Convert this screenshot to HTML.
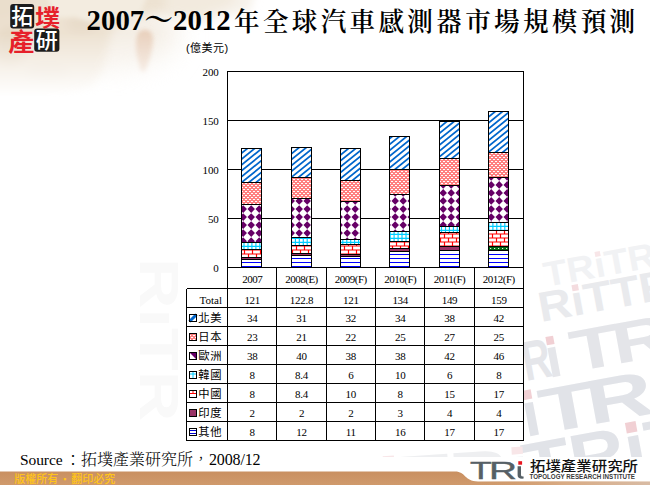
<!DOCTYPE html>
<html lang="zh-Hant"><head><meta charset="utf-8"><title>2007～2012年全球汽車感測器市場規模預測</title>
<style>
html,body{margin:0;padding:0;background:#fff;}
body{width:650px;height:485px;position:relative;overflow:hidden;font-family:"Liberation Sans","Noto Sans CJK TC",sans-serif;}
#bg{position:absolute;left:0;top:0;width:650px;height:485px;}
#chart{position:absolute;left:0;top:0;}
.abs{position:absolute;white-space:nowrap;line-height:1;}
#title{left:86.6px;top:3.6px;font-family:"Liberation Serif","Noto Serif CJK SC",serif;font-weight:bold;color:#000;font-size:28.8px;height:32px;line-height:32px;}
#title .cj{font-weight:600;font-size:25.6px;letter-spacing:3.3px;position:relative;top:1.6px;margin-left:3.4px;}
#unit{left:186px;top:43px;font-size:11px;color:#000;letter-spacing:0.45px;}
#src{left:20px;top:452px;font-size:16px;color:#000;font-family:"Liberation Serif","Noto Serif CJK SC",serif;font-weight:300;}
#src .mono{font-family:"Liberation Serif",serif;font-size:15.5px;letter-spacing:-0.1px;display:inline-block;width:45px;font-weight:400;}
#src .num{font-family:"Liberation Serif",serif;font-size:16px;letter-spacing:-0.15px;font-weight:400;}
#copy{left:14.2px;top:474px;font-size:11px;color:#ffc41a;font-weight:500;}
#copy i{font-style:normal;display:inline-block;width:13px;text-align:center;font-size:9px;vertical-align:1px;}
</style></head><body>
<svg id="bg" width="650" height="485" viewBox="0 0 650 485">
<defs>
<filter id="b8" x="-20%" y="-20%" width="140%" height="140%"><feGaussianBlur stdDeviation="5"/></filter>
<filter id="b12" x="-30%" y="-30%" width="160%" height="160%"><feGaussianBlur stdDeviation="14"/></filter>
<filter id="b3" x="-30%" y="-30%" width="160%" height="160%"><feGaussianBlur stdDeviation="2.2"/></filter>
<filter id="b1" x="-10%" y="-10%" width="120%" height="120%"><feGaussianBlur stdDeviation="0.8"/></filter>
<linearGradient id="vf" x1="0" y1="0" x2="0" y2="110" gradientUnits="userSpaceOnUse"><stop offset="0" stop-color="#fff"/><stop offset="0.3" stop-color="#fff"/><stop offset="0.88" stop-color="#000"/></linearGradient>
<mask id="vfade" maskUnits="userSpaceOnUse" x="0" y="0" width="330" height="130"><rect x="0" y="0" width="330" height="130" fill="url(#vf)"/></mask>
<linearGradient id="fadeR" x1="0" y1="0" x2="1" y2="0"><stop offset="0" stop-color="#fff" stop-opacity="0"/><stop offset="1" stop-color="#fff" stop-opacity="1"/></linearGradient>
<linearGradient id="wmfade" x1="0" y1="0" x2="0" y2="1"><stop offset="0" stop-color="#fff" stop-opacity="1"/><stop offset="0.35" stop-color="#fff" stop-opacity="0.55"/><stop offset="1" stop-color="#fff" stop-opacity="0"/></linearGradient>
<linearGradient id="barg2" x1="0" y1="0" x2="1" y2="0"><stop offset="0" stop-color="#d39d6e" stop-opacity="0"/><stop offset="0.5" stop-color="#d9ab84"/><stop offset="1" stop-color="#d8bba4"/></linearGradient>
<linearGradient id="barg" x1="0" y1="471" x2="0" y2="485" gradientUnits="userSpaceOnUse"><stop offset="0" stop-color="#c98f60"/><stop offset="1" stop-color="#d09a6c"/></linearGradient>
</defs>
<!-- map wash -->
<g mask="url(#vfade)">
<g filter="url(#b12)">
<ellipse cx="105" cy="36" rx="72" ry="44" fill="#f4eee5"/>
</g>
<g filter="url(#b8)">
<path d="M-30,-30 L240,-30 L232,4 L195,17 L158,13 L130,17 L112,30 L107,50 L103,70 L92,88 L62,100 L30,104 L-30,106Z" fill="#ede2d2"/>
<path d="M-30,-30 L40,-30 L30,8 L10,20 L-30,25Z" fill="#e6d8c4" opacity="0.35"/>
<ellipse cx="10" cy="45" rx="16" ry="20" fill="#e2d4be" opacity="0.55"/>
<ellipse cx="82" cy="24" rx="16" ry="8" fill="#e4d6c2" opacity="0.5"/>
<ellipse cx="48" cy="74" rx="22" ry="9" fill="#e6d9c6" opacity="0.5"/>
<ellipse cx="118" cy="6" rx="16" ry="7" fill="#e4d6c2" opacity="0.45"/>
<path d="M165,-30 L260,-30 L250,10 L200,24 L165,18Z" fill="#f3ece2" opacity="0.75"/>
</g>
<path d="M45,-10 L150,-10 L140,14 L110,18 L90,22 L75,17 L55,18Z" fill="#f3ece0" filter="url(#b3)"/>
<g filter="url(#b3)">
<path d="M139,32 C146,27 154,31 153,41 C152,52 149,63 145,71 C143,74 140,71 139,64 C136,54 134,39 139,32Z" fill="#e9d1be"/>
</g>
</g>
<!-- watermark -->
<g font-family="'Liberation Sans', sans-serif" font-weight="bold">
<g transform="translate(546,287) rotate(-10.5) scale(1.1,1)">
<text font-size="35" fill="#f1f2f4">TRıTR</text>
<rect x="49.1" y="-25.6" width="4.9" height="5.2" fill="#f8e6e8"/>
</g>
<g transform="translate(541,322) rotate(-10.5) scale(1.1,1)">
<text font-size="42" fill="#e9eaed">RıTTR</text>
<rect x="33.3" y="-30.7" width="5.9" height="6.3" fill="#f4dcdf"/>
</g>
<g transform="translate(526,381) rotate(-10.5) scale(0.7,1)">
<text font-size="56" fill="#e5e6ea">R</text>
</g>
<g transform="translate(549,378) rotate(-10.5) scale(1.0,1)">
<text font-size="56" fill="#e5e6ea">ı</text>
<rect x="3.9" y="-40.9" width="7.8" height="8.4" fill="#f1d0d4"/>
</g>
<g transform="translate(574,372) rotate(-10.5) scale(1.4,1)">
<text font-size="58" fill="#e4e5e9" letter-spacing="-5">TR</text>
</g>
<g transform="translate(526,437) rotate(-10.5) scale(1.0,1)">
<text font-size="63" fill="#e1e3e8">ı</text>
<rect x="4.4" y="-46.0" width="8.8" height="9.4" fill="#f1d0d4"/>
</g>
<g transform="translate(543.5,433.8) rotate(-10.5) scale(1.47,1)">
<text font-size="63" fill="#e1e3e8" letter-spacing="-6">TR</text>
</g>
<g transform="translate(528,493) rotate(-10.5) scale(1.1,1)">
<text font-size="70" fill="#e1e3e8">TRıT</text>
<rect x="98.2" y="-51.1" width="9.8" height="10.5" fill="#f1d0d4"/>
</g>
<g transform="translate(322,497) rotate(-4) scale(1.6,1)">
<text font-size="50" fill="#eeeff1">RıTRı</text>
<rect x="39.6" y="-36.5" width="7.0" height="7.5" fill="#f8e6e8"/>
<rect x="120.2" y="-36.5" width="7.0" height="7.5" fill="#f8e6e8"/>
</g>
<text transform="translate(140,258) rotate(90) scale(1.25,1)" font-size="56" fill="#f9f9f9">RıTR</text>
</g>
<!-- bottom bar -->
<rect x="0" y="457" width="650" height="28" fill="#fff"/>
<path d="M0,471.4 L455,471.4 C466,471.4 464,481.2 478,481.4 L650,481.8 L650,485 L0,485Z" fill="url(#barg)"/>
<path d="M478,481.4 L650,481.8 L650,485 L478,485Z" fill="url(#barg2)"/>
<!-- TRi logo -->
<g font-family="'Liberation Sans', sans-serif" fill="#566066">
<text transform="translate(470.0,478.6) scale(1.53,1)" font-size="23.2" stroke="#566066" stroke-width="0.4">T</text>
<text transform="translate(488.9,478.6) scale(1.67,1)" font-size="23.2" stroke="#566066" stroke-width="0.4">R</text>
<path d="M517.6,466.3 h3.4 v9 q0,1.4 2.6,1.3 v2 q-6,0.6 -6,-3.3z"/>
<rect x="518.3" y="461.2" width="3.8" height="3.5" fill="#e8141e"/>
</g>
<text transform="translate(530,471.4) scale(1,0.9)" font-family="'Liberation Sans','Noto Sans CJK TC',sans-serif" font-weight="500" font-size="14.6" fill="#111" textLength="108" lengthAdjust="spacingAndGlyphs">拓墣產業研究所</text>
<text x="529.5" y="479.2" font-family="'Liberation Sans', sans-serif" font-size="6.7" font-weight="bold" fill="#3a3a3a" textLength="105.5" lengthAdjust="spacingAndGlyphs">TOPOLOGY RESEARCH INSTITUTE</text>
<!-- top-left logo -->
<rect x="10.2" y="4" width="24" height="24.6" rx="3" fill="#1c1c1c"/>
<rect x="34.2" y="28.6" width="25.2" height="23.1" rx="3" fill="#1c1c1c"/>
<g font-family="'Liberation Sans','Noto Sans CJK TC',sans-serif" font-weight="700">
<text x="11.3" y="24.4" fill="#fff" font-size="22" font-weight="500">拓</text>
<text transform="translate(35,26.3) scale(1,0.92)" fill="#e6202a" font-size="25">墣</text>
<text transform="translate(8.3,50.8) scale(1,0.94)" fill="#e6202a" font-size="26">產</text>
<text x="35.8" y="48.3" fill="#fff" font-size="22" font-weight="500">研</text>
</g>
</svg>
<svg id="chart" width="650" height="485" viewBox="0 0 650 485">
<defs>
<pattern id="pJapan" width="4" height="4" x="3" y="1" patternUnits="userSpaceOnUse"><rect width="4" height="4" fill="#ff8080"/><rect x="0" y="0" width="2" height="1" fill="#fff"/><rect x="2" y="2" width="2" height="1" fill="#fff"/></pattern>
</defs>
<rect x="227.5" y="71.5" width="296.0" height="196.0" fill="#fff" stroke="none"/>
<rect x="186.5" y="288.5" width="41.0" height="152.0" fill="#fff"/>
<rect x="227.5" y="267.5" width="296.0" height="173.0" fill="#fff"/>
<g stroke="#000" stroke-width="1" fill="none" shape-rendering="crispEdges">
<line x1="227.5" y1="218.5" x2="523.5" y2="218.5"/>
<line x1="227.5" y1="169.5" x2="523.5" y2="169.5"/>
<line x1="227.5" y1="120.5" x2="523.5" y2="120.5"/>
<rect x="227.5" y="71.5" width="296.0" height="196.0"/>
</g>
<clipPath id="c0"><rect x="241.5" y="259.50" width="20" height="8.00"/></clipPath>
<g clip-path="url(#c0)">
<rect x="241.5" y="259.50" width="20" height="8.00" fill="#fff"/>
<path d="M241.5 266.5H261.5M241.5 262.5H261.5" stroke="#0000ff" stroke-width="1" fill="none"/>
</g>
<rect x="241.5" y="259.50" width="20" height="8.00" fill="none" stroke="#000" stroke-width="1" shape-rendering="crispEdges"/>
<clipPath id="c1"><rect x="241.5" y="257.50" width="20" height="2.00"/></clipPath>
<g clip-path="url(#c1)">
<rect x="241.5" y="257.50" width="20" height="2.00" fill="#993366"/>
</g>
<rect x="241.5" y="257.50" width="20" height="2.00" fill="none" stroke="#000" stroke-width="1" shape-rendering="crispEdges"/>
<clipPath id="c2"><rect x="241.5" y="249.50" width="20" height="8.00"/></clipPath>
<g clip-path="url(#c2)">
<rect x="241.5" y="249.50" width="20" height="8.00" fill="#fff"/>
<path d="M248.5 246.0v4.0M256.5 246.0v4.0M241.5 250.0H261.5M244.5 250.0v4.0M252.5 250.0v4.0M260.5 250.0v4.0M241.5 254.0H261.5M248.5 254.0v4.0M256.5 254.0v4.0M241.5 258.0H261.5" stroke="#ff0000" stroke-width="1.2" fill="none"/>
</g>
<rect x="241.5" y="249.50" width="20" height="8.00" fill="none" stroke="#000" stroke-width="1" shape-rendering="crispEdges"/>
<clipPath id="c3"><rect x="241.5" y="242.50" width="20" height="7.00"/></clipPath>
<g clip-path="url(#c3)">
<rect x="241.5" y="242.50" width="20" height="7.00" fill="#fff"/>
<path d="M244.0 242.5V249.5M248.0 242.5V249.5M251.9 242.5V249.5M255.9 242.5V249.5M259.8 242.5V249.5M241.5 246.3H261.5" stroke="#00ccff" stroke-width="1.15" fill="none"/>
</g>
<rect x="241.5" y="242.50" width="20" height="7.00" fill="none" stroke="#000" stroke-width="1" shape-rendering="crispEdges"/>
<clipPath id="c4"><rect x="241.5" y="204.50" width="20" height="38.00"/></clipPath>
<g clip-path="url(#c4)">
<rect x="241.5" y="204.50" width="20" height="38.00" fill="#fff"/>
<path d="M243.2 197.1l3.75 3.85l-3.75 3.85l-3.75 -3.85zM251.2 197.1l3.75 3.85l-3.75 3.85l-3.75 -3.85zM259.2 197.1l3.75 3.85l-3.75 3.85l-3.75 -3.85zM243.2 205.2l3.75 3.85l-3.75 3.85l-3.75 -3.85zM251.2 205.2l3.75 3.85l-3.75 3.85l-3.75 -3.85zM259.2 205.2l3.75 3.85l-3.75 3.85l-3.75 -3.85zM243.2 213.2l3.75 3.85l-3.75 3.85l-3.75 -3.85zM251.2 213.2l3.75 3.85l-3.75 3.85l-3.75 -3.85zM259.2 213.2l3.75 3.85l-3.75 3.85l-3.75 -3.85zM243.2 221.2l3.75 3.85l-3.75 3.85l-3.75 -3.85zM251.2 221.2l3.75 3.85l-3.75 3.85l-3.75 -3.85zM259.2 221.2l3.75 3.85l-3.75 3.85l-3.75 -3.85zM243.2 229.2l3.75 3.85l-3.75 3.85l-3.75 -3.85zM251.2 229.2l3.75 3.85l-3.75 3.85l-3.75 -3.85zM259.2 229.2l3.75 3.85l-3.75 3.85l-3.75 -3.85zM243.2 237.3l3.75 3.85l-3.75 3.85l-3.75 -3.85zM251.2 237.3l3.75 3.85l-3.75 3.85l-3.75 -3.85zM259.2 237.3l3.75 3.85l-3.75 3.85l-3.75 -3.85z" fill="#660066"/>
</g>
<rect x="241.5" y="204.50" width="20" height="38.00" fill="none" stroke="#000" stroke-width="1" shape-rendering="crispEdges"/>
<clipPath id="c5"><rect x="241.5" y="182.50" width="20" height="22.00"/></clipPath>
<g clip-path="url(#c5)">
<rect x="241.5" y="182.50" width="20" height="22.00" fill="url(#pJapan)"/>
</g>
<rect x="241.5" y="182.50" width="20" height="22.00" fill="none" stroke="#000" stroke-width="1" shape-rendering="crispEdges"/>
<clipPath id="c6"><rect x="241.5" y="148.50" width="20" height="34.00"/></clipPath>
<g clip-path="url(#c6)">
<rect x="241.5" y="148.50" width="20" height="34.00" fill="#fff"/>
<path d="M239.5 143.20L263.5 123.76M239.5 149.05L263.5 129.61M239.5 154.90L263.5 135.46M239.5 160.75L263.5 141.31M239.5 166.60L263.5 147.16M239.5 172.45L263.5 153.01M239.5 178.30L263.5 158.86M239.5 184.15L263.5 164.71M239.5 190.00L263.5 170.56M239.5 195.85L263.5 176.41M239.5 201.70L263.5 182.26M239.5 207.55L263.5 188.11" stroke="#0066cc" stroke-width="1.75" fill="none"/>
</g>
<rect x="241.5" y="148.50" width="20" height="34.00" fill="none" stroke="#000" stroke-width="1" shape-rendering="crispEdges"/>
<clipPath id="c7"><rect x="291.5" y="255.50" width="20" height="12.00"/></clipPath>
<g clip-path="url(#c7)">
<rect x="291.5" y="255.50" width="20" height="12.00" fill="#fff"/>
<path d="M291.5 266.5H311.5M291.5 262.5H311.5M291.5 258.5H311.5" stroke="#0000ff" stroke-width="1" fill="none"/>
</g>
<rect x="291.5" y="255.50" width="20" height="12.00" fill="none" stroke="#000" stroke-width="1" shape-rendering="crispEdges"/>
<clipPath id="c8"><rect x="291.5" y="253.50" width="20" height="2.00"/></clipPath>
<g clip-path="url(#c8)">
<rect x="291.5" y="253.50" width="20" height="2.00" fill="#993366"/>
</g>
<rect x="291.5" y="253.50" width="20" height="2.00" fill="none" stroke="#000" stroke-width="1" shape-rendering="crispEdges"/>
<clipPath id="c9"><rect x="291.5" y="245.50" width="20" height="8.00"/></clipPath>
<g clip-path="url(#c9)">
<rect x="291.5" y="245.50" width="20" height="8.00" fill="#fff"/>
<path d="M292.5 242.0v4.0M300.5 242.0v4.0M308.5 242.0v4.0M291.5 246.0H311.5M296.5 246.0v4.0M304.5 246.0v4.0M291.5 250.0H311.5M292.5 250.0v4.0M300.5 250.0v4.0M308.5 250.0v4.0M291.5 254.0H311.5" stroke="#ff0000" stroke-width="1.2" fill="none"/>
</g>
<rect x="291.5" y="245.50" width="20" height="8.00" fill="none" stroke="#000" stroke-width="1" shape-rendering="crispEdges"/>
<clipPath id="c10"><rect x="291.5" y="237.50" width="20" height="8.00"/></clipPath>
<g clip-path="url(#c10)">
<rect x="291.5" y="237.50" width="20" height="8.00" fill="#fff"/>
<path d="M295.4 237.5V245.5M299.3 237.5V245.5M303.3 237.5V245.5M307.2 237.5V245.5M311.2 237.5V245.5M291.5 238.3H311.5M291.5 242.3H311.5" stroke="#00ccff" stroke-width="1.15" fill="none"/>
</g>
<rect x="291.5" y="237.50" width="20" height="8.00" fill="none" stroke="#000" stroke-width="1" shape-rendering="crispEdges"/>
<clipPath id="c11"><rect x="291.5" y="198.50" width="20" height="39.00"/></clipPath>
<g clip-path="url(#c11)">
<rect x="291.5" y="198.50" width="20" height="39.00" fill="#fff"/>
<path d="M291.2 197.1l3.75 3.85l-3.75 3.85l-3.75 -3.85zM299.2 197.1l3.75 3.85l-3.75 3.85l-3.75 -3.85zM307.2 197.1l3.75 3.85l-3.75 3.85l-3.75 -3.85zM315.2 197.1l3.75 3.85l-3.75 3.85l-3.75 -3.85zM291.2 205.2l3.75 3.85l-3.75 3.85l-3.75 -3.85zM299.2 205.2l3.75 3.85l-3.75 3.85l-3.75 -3.85zM307.2 205.2l3.75 3.85l-3.75 3.85l-3.75 -3.85zM315.2 205.2l3.75 3.85l-3.75 3.85l-3.75 -3.85zM291.2 213.2l3.75 3.85l-3.75 3.85l-3.75 -3.85zM299.2 213.2l3.75 3.85l-3.75 3.85l-3.75 -3.85zM307.2 213.2l3.75 3.85l-3.75 3.85l-3.75 -3.85zM315.2 213.2l3.75 3.85l-3.75 3.85l-3.75 -3.85zM291.2 221.2l3.75 3.85l-3.75 3.85l-3.75 -3.85zM299.2 221.2l3.75 3.85l-3.75 3.85l-3.75 -3.85zM307.2 221.2l3.75 3.85l-3.75 3.85l-3.75 -3.85zM315.2 221.2l3.75 3.85l-3.75 3.85l-3.75 -3.85zM291.2 229.2l3.75 3.85l-3.75 3.85l-3.75 -3.85zM299.2 229.2l3.75 3.85l-3.75 3.85l-3.75 -3.85zM307.2 229.2l3.75 3.85l-3.75 3.85l-3.75 -3.85zM315.2 229.2l3.75 3.85l-3.75 3.85l-3.75 -3.85zM291.2 237.3l3.75 3.85l-3.75 3.85l-3.75 -3.85zM299.2 237.3l3.75 3.85l-3.75 3.85l-3.75 -3.85zM307.2 237.3l3.75 3.85l-3.75 3.85l-3.75 -3.85zM315.2 237.3l3.75 3.85l-3.75 3.85l-3.75 -3.85z" fill="#660066"/>
</g>
<rect x="291.5" y="198.50" width="20" height="39.00" fill="none" stroke="#000" stroke-width="1" shape-rendering="crispEdges"/>
<clipPath id="c12"><rect x="291.5" y="177.50" width="20" height="21.00"/></clipPath>
<g clip-path="url(#c12)">
<rect x="291.5" y="177.50" width="20" height="21.00" fill="url(#pJapan)"/>
</g>
<rect x="291.5" y="177.50" width="20" height="21.00" fill="none" stroke="#000" stroke-width="1" shape-rendering="crispEdges"/>
<clipPath id="c13"><rect x="291.5" y="147.50" width="20" height="30.00"/></clipPath>
<g clip-path="url(#c13)">
<rect x="291.5" y="147.50" width="20" height="30.00" fill="#fff"/>
<path d="M289.5 137.80L313.5 118.36M289.5 143.65L313.5 124.21M289.5 149.50L313.5 130.06M289.5 155.35L313.5 135.91M289.5 161.20L313.5 141.76M289.5 167.05L313.5 147.61M289.5 172.90L313.5 153.46M289.5 178.75L313.5 159.31M289.5 184.60L313.5 165.16M289.5 190.45L313.5 171.01M289.5 196.30L313.5 176.86M289.5 202.15L313.5 182.71" stroke="#0066cc" stroke-width="1.75" fill="none"/>
</g>
<rect x="291.5" y="147.50" width="20" height="30.00" fill="none" stroke="#000" stroke-width="1" shape-rendering="crispEdges"/>
<clipPath id="c14"><rect x="340.5" y="256.50" width="20" height="11.00"/></clipPath>
<g clip-path="url(#c14)">
<rect x="340.5" y="256.50" width="20" height="11.00" fill="#fff"/>
<path d="M340.5 266.5H360.5M340.5 262.5H360.5M340.5 258.5H360.5" stroke="#0000ff" stroke-width="1" fill="none"/>
</g>
<rect x="340.5" y="256.50" width="20" height="11.00" fill="none" stroke="#000" stroke-width="1" shape-rendering="crispEdges"/>
<clipPath id="c15"><rect x="340.5" y="254.50" width="20" height="2.00"/></clipPath>
<g clip-path="url(#c15)">
<rect x="340.5" y="254.50" width="20" height="2.00" fill="#993366"/>
</g>
<rect x="340.5" y="254.50" width="20" height="2.00" fill="none" stroke="#000" stroke-width="1" shape-rendering="crispEdges"/>
<clipPath id="c16"><rect x="340.5" y="244.50" width="20" height="10.00"/></clipPath>
<g clip-path="url(#c16)">
<rect x="340.5" y="244.50" width="20" height="10.00" fill="#fff"/>
<path d="M348.5 242.0v4.0M356.5 242.0v4.0M340.5 246.0H360.5M344.5 246.0v4.0M352.5 246.0v4.0M340.5 250.0H360.5M348.5 250.0v4.0M356.5 250.0v4.0M340.5 254.0H360.5M344.5 254.0v4.0M352.5 254.0v4.0" stroke="#ff0000" stroke-width="1.2" fill="none"/>
</g>
<rect x="340.5" y="244.50" width="20" height="10.00" fill="none" stroke="#000" stroke-width="1" shape-rendering="crispEdges"/>
<clipPath id="c17"><rect x="340.5" y="239.50" width="20" height="5.00"/></clipPath>
<g clip-path="url(#c17)">
<rect x="340.5" y="239.50" width="20" height="5.00" fill="#fff"/>
<path d="M342.8 239.5V244.5M346.8 239.5V244.5M350.7 239.5V244.5M354.6 239.5V244.5M358.6 239.5V244.5M340.5 242.3H360.5" stroke="#00ccff" stroke-width="1.15" fill="none"/>
</g>
<rect x="340.5" y="239.50" width="20" height="5.00" fill="none" stroke="#000" stroke-width="1" shape-rendering="crispEdges"/>
<clipPath id="c18"><rect x="340.5" y="201.50" width="20" height="38.00"/></clipPath>
<g clip-path="url(#c18)">
<rect x="340.5" y="201.50" width="20" height="38.00" fill="#fff"/>
<path d="M339.2 197.1l3.75 3.85l-3.75 3.85l-3.75 -3.85zM347.2 197.1l3.75 3.85l-3.75 3.85l-3.75 -3.85zM355.2 197.1l3.75 3.85l-3.75 3.85l-3.75 -3.85zM363.2 197.1l3.75 3.85l-3.75 3.85l-3.75 -3.85zM339.2 205.2l3.75 3.85l-3.75 3.85l-3.75 -3.85zM347.2 205.2l3.75 3.85l-3.75 3.85l-3.75 -3.85zM355.2 205.2l3.75 3.85l-3.75 3.85l-3.75 -3.85zM363.2 205.2l3.75 3.85l-3.75 3.85l-3.75 -3.85zM339.2 213.2l3.75 3.85l-3.75 3.85l-3.75 -3.85zM347.2 213.2l3.75 3.85l-3.75 3.85l-3.75 -3.85zM355.2 213.2l3.75 3.85l-3.75 3.85l-3.75 -3.85zM363.2 213.2l3.75 3.85l-3.75 3.85l-3.75 -3.85zM339.2 221.2l3.75 3.85l-3.75 3.85l-3.75 -3.85zM347.2 221.2l3.75 3.85l-3.75 3.85l-3.75 -3.85zM355.2 221.2l3.75 3.85l-3.75 3.85l-3.75 -3.85zM363.2 221.2l3.75 3.85l-3.75 3.85l-3.75 -3.85zM339.2 229.2l3.75 3.85l-3.75 3.85l-3.75 -3.85zM347.2 229.2l3.75 3.85l-3.75 3.85l-3.75 -3.85zM355.2 229.2l3.75 3.85l-3.75 3.85l-3.75 -3.85zM363.2 229.2l3.75 3.85l-3.75 3.85l-3.75 -3.85zM339.2 237.3l3.75 3.85l-3.75 3.85l-3.75 -3.85zM347.2 237.3l3.75 3.85l-3.75 3.85l-3.75 -3.85zM355.2 237.3l3.75 3.85l-3.75 3.85l-3.75 -3.85zM363.2 237.3l3.75 3.85l-3.75 3.85l-3.75 -3.85z" fill="#660066"/>
</g>
<rect x="340.5" y="201.50" width="20" height="38.00" fill="none" stroke="#000" stroke-width="1" shape-rendering="crispEdges"/>
<clipPath id="c19"><rect x="340.5" y="180.50" width="20" height="21.00"/></clipPath>
<g clip-path="url(#c19)">
<rect x="340.5" y="180.50" width="20" height="21.00" fill="url(#pJapan)"/>
</g>
<rect x="340.5" y="180.50" width="20" height="21.00" fill="none" stroke="#000" stroke-width="1" shape-rendering="crispEdges"/>
<clipPath id="c20"><rect x="340.5" y="148.50" width="20" height="32.00"/></clipPath>
<g clip-path="url(#c20)">
<rect x="340.5" y="148.50" width="20" height="32.00" fill="#fff"/>
<path d="M338.5 139.06L362.5 119.62M338.5 144.91L362.5 125.47M338.5 150.76L362.5 131.32M338.5 156.61L362.5 137.17M338.5 162.46L362.5 143.02M338.5 168.31L362.5 148.87M338.5 174.16L362.5 154.72M338.5 180.01L362.5 160.57M338.5 185.86L362.5 166.42M338.5 191.71L362.5 172.27M338.5 197.56L362.5 178.12M338.5 203.41L362.5 183.97M338.5 209.26L362.5 189.82" stroke="#0066cc" stroke-width="1.75" fill="none"/>
</g>
<rect x="340.5" y="148.50" width="20" height="32.00" fill="none" stroke="#000" stroke-width="1" shape-rendering="crispEdges"/>
<clipPath id="c21"><rect x="389.5" y="251.50" width="20" height="16.00"/></clipPath>
<g clip-path="url(#c21)">
<rect x="389.5" y="251.50" width="20" height="16.00" fill="#fff"/>
<path d="M389.5 266.5H409.5M389.5 262.5H409.5M389.5 258.5H409.5M389.5 254.5H409.5" stroke="#0000ff" stroke-width="1" fill="none"/>
</g>
<rect x="389.5" y="251.50" width="20" height="16.00" fill="none" stroke="#000" stroke-width="1" shape-rendering="crispEdges"/>
<clipPath id="c22"><rect x="389.5" y="248.50" width="20" height="3.00"/></clipPath>
<g clip-path="url(#c22)">
<rect x="389.5" y="248.50" width="20" height="3.00" fill="#993366"/>
</g>
<rect x="389.5" y="248.50" width="20" height="3.00" fill="none" stroke="#000" stroke-width="1" shape-rendering="crispEdges"/>
<clipPath id="c23"><rect x="389.5" y="241.50" width="20" height="7.00"/></clipPath>
<g clip-path="url(#c23)">
<rect x="389.5" y="241.50" width="20" height="7.00" fill="#fff"/>
<path d="M392.5 238.0v4.0M400.5 238.0v4.0M408.5 238.0v4.0M389.5 242.0H409.5M396.5 242.0v4.0M404.5 242.0v4.0M389.5 246.0H409.5M392.5 246.0v4.0M400.5 246.0v4.0M408.5 246.0v4.0" stroke="#ff0000" stroke-width="1.2" fill="none"/>
</g>
<rect x="389.5" y="241.50" width="20" height="7.00" fill="none" stroke="#000" stroke-width="1" shape-rendering="crispEdges"/>
<clipPath id="c24"><rect x="389.5" y="231.50" width="20" height="10.00"/></clipPath>
<g clip-path="url(#c24)">
<rect x="389.5" y="231.50" width="20" height="10.00" fill="#fff"/>
<path d="M390.2 231.5V241.5M394.1 231.5V241.5M398.1 231.5V241.5M402.0 231.5V241.5M406.0 231.5V241.5M389.5 234.3H409.5M389.5 238.3H409.5" stroke="#00ccff" stroke-width="1.15" fill="none"/>
</g>
<rect x="389.5" y="231.50" width="20" height="10.00" fill="none" stroke="#000" stroke-width="1" shape-rendering="crispEdges"/>
<clipPath id="c25"><rect x="389.5" y="194.50" width="20" height="37.00"/></clipPath>
<g clip-path="url(#c25)">
<rect x="389.5" y="194.50" width="20" height="37.00" fill="#fff"/>
<path d="M387.2 189.1l3.75 3.85l-3.75 3.85l-3.75 -3.85zM395.2 189.1l3.75 3.85l-3.75 3.85l-3.75 -3.85zM403.2 189.1l3.75 3.85l-3.75 3.85l-3.75 -3.85zM411.2 189.1l3.75 3.85l-3.75 3.85l-3.75 -3.85zM387.2 197.1l3.75 3.85l-3.75 3.85l-3.75 -3.85zM395.2 197.1l3.75 3.85l-3.75 3.85l-3.75 -3.85zM403.2 197.1l3.75 3.85l-3.75 3.85l-3.75 -3.85zM411.2 197.1l3.75 3.85l-3.75 3.85l-3.75 -3.85zM387.2 205.2l3.75 3.85l-3.75 3.85l-3.75 -3.85zM395.2 205.2l3.75 3.85l-3.75 3.85l-3.75 -3.85zM403.2 205.2l3.75 3.85l-3.75 3.85l-3.75 -3.85zM411.2 205.2l3.75 3.85l-3.75 3.85l-3.75 -3.85zM387.2 213.2l3.75 3.85l-3.75 3.85l-3.75 -3.85zM395.2 213.2l3.75 3.85l-3.75 3.85l-3.75 -3.85zM403.2 213.2l3.75 3.85l-3.75 3.85l-3.75 -3.85zM411.2 213.2l3.75 3.85l-3.75 3.85l-3.75 -3.85zM387.2 221.2l3.75 3.85l-3.75 3.85l-3.75 -3.85zM395.2 221.2l3.75 3.85l-3.75 3.85l-3.75 -3.85zM403.2 221.2l3.75 3.85l-3.75 3.85l-3.75 -3.85zM411.2 221.2l3.75 3.85l-3.75 3.85l-3.75 -3.85zM387.2 229.2l3.75 3.85l-3.75 3.85l-3.75 -3.85zM395.2 229.2l3.75 3.85l-3.75 3.85l-3.75 -3.85zM403.2 229.2l3.75 3.85l-3.75 3.85l-3.75 -3.85zM411.2 229.2l3.75 3.85l-3.75 3.85l-3.75 -3.85z" fill="#660066"/>
</g>
<rect x="389.5" y="194.50" width="20" height="37.00" fill="none" stroke="#000" stroke-width="1" shape-rendering="crispEdges"/>
<clipPath id="c26"><rect x="389.5" y="169.50" width="20" height="25.00"/></clipPath>
<g clip-path="url(#c26)">
<rect x="389.5" y="169.50" width="20" height="25.00" fill="url(#pJapan)"/>
</g>
<rect x="389.5" y="169.50" width="20" height="25.00" fill="none" stroke="#000" stroke-width="1" shape-rendering="crispEdges"/>
<clipPath id="c27"><rect x="389.5" y="136.50" width="20" height="33.00"/></clipPath>
<g clip-path="url(#c27)">
<rect x="389.5" y="136.50" width="20" height="33.00" fill="#fff"/>
<path d="M387.5 128.62L411.5 109.18M387.5 134.47L411.5 115.03M387.5 140.32L411.5 120.88M387.5 146.17L411.5 126.73M387.5 152.02L411.5 132.58M387.5 157.87L411.5 138.43M387.5 163.72L411.5 144.28M387.5 169.57L411.5 150.13M387.5 175.42L411.5 155.98M387.5 181.27L411.5 161.83M387.5 187.12L411.5 167.68M387.5 192.97L411.5 173.53M387.5 198.82L411.5 179.38" stroke="#0066cc" stroke-width="1.75" fill="none"/>
</g>
<rect x="389.5" y="136.50" width="20" height="33.00" fill="none" stroke="#000" stroke-width="1" shape-rendering="crispEdges"/>
<clipPath id="c28"><rect x="439.5" y="250.50" width="20" height="17.00"/></clipPath>
<g clip-path="url(#c28)">
<rect x="439.5" y="250.50" width="20" height="17.00" fill="#fff"/>
<path d="M439.5 266.5H459.5M439.5 262.5H459.5M439.5 258.5H459.5M439.5 254.5H459.5" stroke="#0000ff" stroke-width="1" fill="none"/>
</g>
<rect x="439.5" y="250.50" width="20" height="17.00" fill="none" stroke="#000" stroke-width="1" shape-rendering="crispEdges"/>
<clipPath id="c29"><rect x="439.5" y="246.50" width="20" height="4.00"/></clipPath>
<g clip-path="url(#c29)">
<rect x="439.5" y="246.50" width="20" height="4.00" fill="#993366"/>
</g>
<rect x="439.5" y="246.50" width="20" height="4.00" fill="none" stroke="#000" stroke-width="1" shape-rendering="crispEdges"/>
<clipPath id="c30"><rect x="439.5" y="232.50" width="20" height="14.00"/></clipPath>
<g clip-path="url(#c30)">
<rect x="439.5" y="232.50" width="20" height="14.00" fill="#fff"/>
<path d="M440.5 230.0v4.0M448.5 230.0v4.0M456.5 230.0v4.0M439.5 234.0H459.5M444.5 234.0v4.0M452.5 234.0v4.0M439.5 238.0H459.5M440.5 238.0v4.0M448.5 238.0v4.0M456.5 238.0v4.0M439.5 242.0H459.5M444.5 242.0v4.0M452.5 242.0v4.0M439.5 246.0H459.5M440.5 246.0v4.0M448.5 246.0v4.0M456.5 246.0v4.0" stroke="#ff0000" stroke-width="1.2" fill="none"/>
</g>
<rect x="439.5" y="232.50" width="20" height="14.00" fill="none" stroke="#000" stroke-width="1" shape-rendering="crispEdges"/>
<clipPath id="c31"><rect x="439.5" y="226.50" width="20" height="6.00"/></clipPath>
<g clip-path="url(#c31)">
<rect x="439.5" y="226.50" width="20" height="6.00" fill="#fff"/>
<path d="M441.5 226.5V232.5M445.5 226.5V232.5M449.4 226.5V232.5M453.4 226.5V232.5M457.3 226.5V232.5M439.5 230.3H459.5" stroke="#00ccff" stroke-width="1.15" fill="none"/>
</g>
<rect x="439.5" y="226.50" width="20" height="6.00" fill="none" stroke="#000" stroke-width="1" shape-rendering="crispEdges"/>
<clipPath id="c32"><rect x="439.5" y="185.50" width="20" height="41.00"/></clipPath>
<g clip-path="url(#c32)">
<rect x="439.5" y="185.50" width="20" height="41.00" fill="#fff"/>
<path d="M443.2 181.1l3.75 3.85l-3.75 3.85l-3.75 -3.85zM451.2 181.1l3.75 3.85l-3.75 3.85l-3.75 -3.85zM459.2 181.1l3.75 3.85l-3.75 3.85l-3.75 -3.85zM443.2 189.1l3.75 3.85l-3.75 3.85l-3.75 -3.85zM451.2 189.1l3.75 3.85l-3.75 3.85l-3.75 -3.85zM459.2 189.1l3.75 3.85l-3.75 3.85l-3.75 -3.85zM443.2 197.1l3.75 3.85l-3.75 3.85l-3.75 -3.85zM451.2 197.1l3.75 3.85l-3.75 3.85l-3.75 -3.85zM459.2 197.1l3.75 3.85l-3.75 3.85l-3.75 -3.85zM443.2 205.2l3.75 3.85l-3.75 3.85l-3.75 -3.85zM451.2 205.2l3.75 3.85l-3.75 3.85l-3.75 -3.85zM459.2 205.2l3.75 3.85l-3.75 3.85l-3.75 -3.85zM443.2 213.2l3.75 3.85l-3.75 3.85l-3.75 -3.85zM451.2 213.2l3.75 3.85l-3.75 3.85l-3.75 -3.85zM459.2 213.2l3.75 3.85l-3.75 3.85l-3.75 -3.85zM443.2 221.2l3.75 3.85l-3.75 3.85l-3.75 -3.85zM451.2 221.2l3.75 3.85l-3.75 3.85l-3.75 -3.85zM459.2 221.2l3.75 3.85l-3.75 3.85l-3.75 -3.85z" fill="#660066"/>
</g>
<rect x="439.5" y="185.50" width="20" height="41.00" fill="none" stroke="#000" stroke-width="1" shape-rendering="crispEdges"/>
<clipPath id="c33"><rect x="439.5" y="158.50" width="20" height="27.00"/></clipPath>
<g clip-path="url(#c33)">
<rect x="439.5" y="158.50" width="20" height="27.00" fill="url(#pJapan)"/>
</g>
<rect x="439.5" y="158.50" width="20" height="27.00" fill="none" stroke="#000" stroke-width="1" shape-rendering="crispEdges"/>
<clipPath id="c34"><rect x="439.5" y="121.50" width="20" height="37.00"/></clipPath>
<g clip-path="url(#c34)">
<rect x="439.5" y="121.50" width="20" height="37.00" fill="#fff"/>
<path d="M437.5 111.52L461.5 92.08M437.5 117.37L461.5 97.93M437.5 123.22L461.5 103.78M437.5 129.07L461.5 109.63M437.5 134.92L461.5 115.48M437.5 140.77L461.5 121.33M437.5 146.62L461.5 127.18M437.5 152.47L461.5 133.03M437.5 158.32L461.5 138.88M437.5 164.17L461.5 144.73M437.5 170.02L461.5 150.58M437.5 175.87L461.5 156.43M437.5 181.72L461.5 162.28M437.5 187.57L461.5 168.13" stroke="#0066cc" stroke-width="1.75" fill="none"/>
</g>
<rect x="439.5" y="121.50" width="20" height="37.00" fill="none" stroke="#000" stroke-width="1" shape-rendering="crispEdges"/>
<clipPath id="c35"><rect x="488.5" y="250.50" width="20" height="17.00"/></clipPath>
<g clip-path="url(#c35)">
<rect x="488.5" y="250.50" width="20" height="17.00" fill="#fff"/>
<path d="M488.5 266.5H508.5M488.5 262.5H508.5M488.5 258.5H508.5M488.5 254.5H508.5" stroke="#0000ff" stroke-width="1" fill="none"/>
</g>
<rect x="488.5" y="250.50" width="20" height="17.00" fill="none" stroke="#000" stroke-width="1" shape-rendering="crispEdges"/>
<clipPath id="c36"><rect x="488.5" y="246.50" width="20" height="4.00"/></clipPath>
<g clip-path="url(#c36)">
<rect x="488.5" y="246.50" width="20" height="4.00" fill="#006411"/>
<path d="M490.1 247.9h1.1v1.1h-1.1zM494.1 247.9h1.1v1.1h-1.1zM498.1 247.9h1.1v1.1h-1.1zM502.1 247.9h1.1v1.1h-1.1zM506.1 247.9h1.1v1.1h-1.1z" fill="#fff"/>
</g>
<rect x="488.5" y="246.50" width="20" height="4.00" fill="none" stroke="#000" stroke-width="1" shape-rendering="crispEdges"/>
<clipPath id="c37"><rect x="488.5" y="230.50" width="20" height="16.00"/></clipPath>
<g clip-path="url(#c37)">
<rect x="488.5" y="230.50" width="20" height="16.00" fill="#fff"/>
<path d="M488.5 230.0H508.5M496.5 230.0v4.0M504.5 230.0v4.0M488.5 234.0H508.5M492.5 234.0v4.0M500.5 234.0v4.0M488.5 238.0H508.5M496.5 238.0v4.0M504.5 238.0v4.0M488.5 242.0H508.5M492.5 242.0v4.0M500.5 242.0v4.0M488.5 246.0H508.5M496.5 246.0v4.0M504.5 246.0v4.0" stroke="#ff0000" stroke-width="1.2" fill="none"/>
</g>
<rect x="488.5" y="230.50" width="20" height="16.00" fill="none" stroke="#000" stroke-width="1" shape-rendering="crispEdges"/>
<clipPath id="c38"><rect x="488.5" y="222.50" width="20" height="8.00"/></clipPath>
<g clip-path="url(#c38)">
<rect x="488.5" y="222.50" width="20" height="8.00" fill="#fff"/>
<path d="M488.9 222.5V230.5M492.9 222.5V230.5M496.8 222.5V230.5M500.8 222.5V230.5M504.8 222.5V230.5M488.5 226.3H508.5M488.5 230.3H508.5" stroke="#00ccff" stroke-width="1.15" fill="none"/>
</g>
<rect x="488.5" y="222.50" width="20" height="8.00" fill="none" stroke="#000" stroke-width="1" shape-rendering="crispEdges"/>
<clipPath id="c39"><rect x="488.5" y="177.50" width="20" height="45.00"/></clipPath>
<g clip-path="url(#c39)">
<rect x="488.5" y="177.50" width="20" height="45.00" fill="#fff"/>
<path d="M491.2 173.0l3.75 3.85l-3.75 3.85l-3.75 -3.85zM499.2 173.0l3.75 3.85l-3.75 3.85l-3.75 -3.85zM507.2 173.0l3.75 3.85l-3.75 3.85l-3.75 -3.85zM491.2 181.1l3.75 3.85l-3.75 3.85l-3.75 -3.85zM499.2 181.1l3.75 3.85l-3.75 3.85l-3.75 -3.85zM507.2 181.1l3.75 3.85l-3.75 3.85l-3.75 -3.85zM491.2 189.1l3.75 3.85l-3.75 3.85l-3.75 -3.85zM499.2 189.1l3.75 3.85l-3.75 3.85l-3.75 -3.85zM507.2 189.1l3.75 3.85l-3.75 3.85l-3.75 -3.85zM491.2 197.1l3.75 3.85l-3.75 3.85l-3.75 -3.85zM499.2 197.1l3.75 3.85l-3.75 3.85l-3.75 -3.85zM507.2 197.1l3.75 3.85l-3.75 3.85l-3.75 -3.85zM491.2 205.2l3.75 3.85l-3.75 3.85l-3.75 -3.85zM499.2 205.2l3.75 3.85l-3.75 3.85l-3.75 -3.85zM507.2 205.2l3.75 3.85l-3.75 3.85l-3.75 -3.85zM491.2 213.2l3.75 3.85l-3.75 3.85l-3.75 -3.85zM499.2 213.2l3.75 3.85l-3.75 3.85l-3.75 -3.85zM507.2 213.2l3.75 3.85l-3.75 3.85l-3.75 -3.85zM491.2 221.2l3.75 3.85l-3.75 3.85l-3.75 -3.85zM499.2 221.2l3.75 3.85l-3.75 3.85l-3.75 -3.85zM507.2 221.2l3.75 3.85l-3.75 3.85l-3.75 -3.85z" fill="#660066"/>
</g>
<rect x="488.5" y="177.50" width="20" height="45.00" fill="none" stroke="#000" stroke-width="1" shape-rendering="crispEdges"/>
<clipPath id="c40"><rect x="488.5" y="152.50" width="20" height="25.00"/></clipPath>
<g clip-path="url(#c40)">
<rect x="488.5" y="152.50" width="20" height="25.00" fill="url(#pJapan)"/>
</g>
<rect x="488.5" y="152.50" width="20" height="25.00" fill="none" stroke="#000" stroke-width="1" shape-rendering="crispEdges"/>
<clipPath id="c41"><rect x="488.5" y="111.50" width="20" height="41.00"/></clipPath>
<g clip-path="url(#c41)">
<rect x="488.5" y="111.50" width="20" height="41.00" fill="#fff"/>
<path d="M486.5 106.93L510.5 87.49M486.5 112.78L510.5 93.33M486.5 118.63L510.5 99.19M486.5 124.48L510.5 105.04M486.5 130.33L510.5 110.89M486.5 136.18L510.5 116.73M486.5 142.03L510.5 122.58M486.5 147.88L510.5 128.44M486.5 153.73L510.5 134.29M486.5 159.58L510.5 140.14M486.5 165.43L510.5 145.98M486.5 171.28L510.5 151.83M486.5 177.13L510.5 157.69" stroke="#0066cc" stroke-width="1.75" fill="none"/>
</g>
<rect x="488.5" y="111.50" width="20" height="41.00" fill="none" stroke="#000" stroke-width="1" shape-rendering="crispEdges"/>
<g stroke="#000" stroke-width="1" fill="none" shape-rendering="crispEdges">
<line x1="227.5" y1="288.5" x2="523.5" y2="288.5"/>
<line x1="186.5" y1="288.5" x2="523.5" y2="288.5"/>
<line x1="186.5" y1="307.5" x2="523.5" y2="307.5"/>
<line x1="186.5" y1="326.5" x2="523.5" y2="326.5"/>
<line x1="186.5" y1="345.5" x2="523.5" y2="345.5"/>
<line x1="186.5" y1="364.5" x2="523.5" y2="364.5"/>
<line x1="186.5" y1="383.5" x2="523.5" y2="383.5"/>
<line x1="186.5" y1="402.5" x2="523.5" y2="402.5"/>
<line x1="186.5" y1="421.5" x2="523.5" y2="421.5"/>
<line x1="186.5" y1="440.5" x2="523.5" y2="440.5"/>
<line x1="186.5" y1="288.5" x2="186.5" y2="440.5"/>
<line x1="227.5" y1="267.5" x2="227.5" y2="440.5"/>
<line x1="276.8" y1="267.5" x2="276.8" y2="440.5"/>
<line x1="326.2" y1="267.5" x2="326.2" y2="440.5"/>
<line x1="375.5" y1="267.5" x2="375.5" y2="440.5"/>
<line x1="424.8" y1="267.5" x2="424.8" y2="440.5"/>
<line x1="474.2" y1="267.5" x2="474.2" y2="440.5"/>
<line x1="523.5" y1="267.5" x2="523.5" y2="440.5"/>
</g>
<rect x="189.5" y="314.5" width="7" height="7" fill="#fff"/><path d="M189.5 321.5 L196.5 314.5" stroke="#0066cc" stroke-width="3"/>
<rect x="189.5" y="314.5" width="7" height="7" fill="none" stroke="#000" stroke-width="1"/>
<rect x="189.5" y="333.5" width="7" height="7" fill="url(#pJapan)"/>
<rect x="189.5" y="333.5" width="7" height="7" fill="none" stroke="#000" stroke-width="1"/>
<rect x="189.5" y="352.5" width="7" height="7" fill="#fff"/><path d="M189.5 352.5 L196.5 359.5 L196.5 352.5Z" fill="#660066"/>
<rect x="189.5" y="352.5" width="7" height="7" fill="none" stroke="#000" stroke-width="1"/>
<rect x="189.5" y="371.5" width="7" height="7" fill="#fff"/><path d="M189.5 374.0 h7 M193.0 371.5 v7" stroke="#00ccff" stroke-width="1"/>
<rect x="189.5" y="371.5" width="7" height="7" fill="none" stroke="#000" stroke-width="1"/>
<rect x="189.5" y="390.5" width="7" height="7" fill="#fff"/><path d="M189.5 393.5 h7 M193.0 390.5 v3" stroke="#ff0000" stroke-width="1"/>
<rect x="189.5" y="390.5" width="7" height="7" fill="none" stroke="#000" stroke-width="1"/>
<rect x="189.5" y="409.5" width="7" height="7" fill="#993366"/>
<rect x="189.5" y="409.5" width="7" height="7" fill="none" stroke="#000" stroke-width="1"/>
<rect x="189.5" y="428.5" width="7" height="7" fill="#fff"/><path d="M189.5 430.5 h7 M189.5 433.5 h7" stroke="#0000d0" stroke-width="1.2"/>
<rect x="189.5" y="428.5" width="7" height="7" fill="none" stroke="#000" stroke-width="1"/>
<g font-family="'Liberation Serif', serif" font-size="11" fill="#000">
<text x="218.5" y="271.9" text-anchor="end" letter-spacing="-0.2">0</text>
<text x="218.5" y="222.9" text-anchor="end" letter-spacing="-0.2">50</text>
<text x="218.5" y="173.9" text-anchor="end" letter-spacing="-0.2">100</text>
<text x="218.5" y="124.9" text-anchor="end" letter-spacing="-0.2">150</text>
<text x="218.5" y="75.9" text-anchor="end" letter-spacing="-0.2">200</text>
<text x="252.2" y="282.5" text-anchor="middle" letter-spacing="-0.5">2007</text>
<text x="301.5" y="282.5" text-anchor="middle" letter-spacing="-0.5">2008(E)</text>
<text x="350.8" y="282.5" text-anchor="middle" letter-spacing="-0.5">2009(F)</text>
<text x="400.2" y="282.5" text-anchor="middle" letter-spacing="-0.5">2010(F)</text>
<text x="449.5" y="282.5" text-anchor="middle" letter-spacing="-0.5">2011(F)</text>
<text x="498.8" y="282.5" text-anchor="middle" letter-spacing="-0.5">2012(F)</text>
<text x="222" y="304.3" text-anchor="end">Total</text>
<text x="252.2" y="304.3" text-anchor="middle" letter-spacing="-0.3">121</text>
<text x="301.5" y="304.3" text-anchor="middle" letter-spacing="-0.3">122.8</text>
<text x="350.8" y="304.3" text-anchor="middle" letter-spacing="-0.3">121</text>
<text x="400.2" y="304.3" text-anchor="middle" letter-spacing="-0.3">134</text>
<text x="449.5" y="304.3" text-anchor="middle" letter-spacing="-0.3">149</text>
<text x="498.8" y="304.3" text-anchor="middle" letter-spacing="-0.3">159</text>
<text x="252.2" y="321.9" text-anchor="middle" letter-spacing="-0.3">34</text>
<text x="301.5" y="321.9" text-anchor="middle" letter-spacing="-0.3">31</text>
<text x="350.8" y="321.9" text-anchor="middle" letter-spacing="-0.3">32</text>
<text x="400.2" y="321.9" text-anchor="middle" letter-spacing="-0.3">34</text>
<text x="449.5" y="321.9" text-anchor="middle" letter-spacing="-0.3">38</text>
<text x="498.8" y="321.9" text-anchor="middle" letter-spacing="-0.3">42</text>
<text x="252.2" y="340.9" text-anchor="middle" letter-spacing="-0.3">23</text>
<text x="301.5" y="340.9" text-anchor="middle" letter-spacing="-0.3">21</text>
<text x="350.8" y="340.9" text-anchor="middle" letter-spacing="-0.3">22</text>
<text x="400.2" y="340.9" text-anchor="middle" letter-spacing="-0.3">25</text>
<text x="449.5" y="340.9" text-anchor="middle" letter-spacing="-0.3">27</text>
<text x="498.8" y="340.9" text-anchor="middle" letter-spacing="-0.3">25</text>
<text x="252.2" y="359.9" text-anchor="middle" letter-spacing="-0.3">38</text>
<text x="301.5" y="359.9" text-anchor="middle" letter-spacing="-0.3">40</text>
<text x="350.8" y="359.9" text-anchor="middle" letter-spacing="-0.3">38</text>
<text x="400.2" y="359.9" text-anchor="middle" letter-spacing="-0.3">38</text>
<text x="449.5" y="359.9" text-anchor="middle" letter-spacing="-0.3">42</text>
<text x="498.8" y="359.9" text-anchor="middle" letter-spacing="-0.3">46</text>
<text x="252.2" y="378.9" text-anchor="middle" letter-spacing="-0.3">8</text>
<text x="301.5" y="378.9" text-anchor="middle" letter-spacing="-0.3">8.4</text>
<text x="350.8" y="378.9" text-anchor="middle" letter-spacing="-0.3">6</text>
<text x="400.2" y="378.9" text-anchor="middle" letter-spacing="-0.3">10</text>
<text x="449.5" y="378.9" text-anchor="middle" letter-spacing="-0.3">6</text>
<text x="498.8" y="378.9" text-anchor="middle" letter-spacing="-0.3">8</text>
<text x="252.2" y="397.9" text-anchor="middle" letter-spacing="-0.3">8</text>
<text x="301.5" y="397.9" text-anchor="middle" letter-spacing="-0.3">8.4</text>
<text x="350.8" y="397.9" text-anchor="middle" letter-spacing="-0.3">10</text>
<text x="400.2" y="397.9" text-anchor="middle" letter-spacing="-0.3">8</text>
<text x="449.5" y="397.9" text-anchor="middle" letter-spacing="-0.3">15</text>
<text x="498.8" y="397.9" text-anchor="middle" letter-spacing="-0.3">17</text>
<text x="252.2" y="416.9" text-anchor="middle" letter-spacing="-0.3">2</text>
<text x="301.5" y="416.9" text-anchor="middle" letter-spacing="-0.3">2</text>
<text x="350.8" y="416.9" text-anchor="middle" letter-spacing="-0.3">2</text>
<text x="400.2" y="416.9" text-anchor="middle" letter-spacing="-0.3">3</text>
<text x="449.5" y="416.9" text-anchor="middle" letter-spacing="-0.3">4</text>
<text x="498.8" y="416.9" text-anchor="middle" letter-spacing="-0.3">4</text>
<text x="252.2" y="435.9" text-anchor="middle" letter-spacing="-0.3">8</text>
<text x="301.5" y="435.9" text-anchor="middle" letter-spacing="-0.3">12</text>
<text x="350.8" y="435.9" text-anchor="middle" letter-spacing="-0.3">11</text>
<text x="400.2" y="435.9" text-anchor="middle" letter-spacing="-0.3">16</text>
<text x="449.5" y="435.9" text-anchor="middle" letter-spacing="-0.3">17</text>
<text x="498.8" y="435.9" text-anchor="middle" letter-spacing="-0.3">17</text>
</g>
<g font-family="'Liberation Sans', 'Noto Sans CJK TC', sans-serif" font-size="11.3" letter-spacing="0.7" fill="#000">
<text x="198.2" y="321.8">北美</text>
<text x="198.2" y="340.8">日本</text>
<text x="198.2" y="359.8">歐洲</text>
<text x="198.2" y="378.8">韓國</text>
<text x="198.2" y="397.8">中國</text>
<text x="198.2" y="416.8">印度</text>
<text x="198.2" y="435.8">其他</text>
</g>
</svg>
<div id="title" class="abs">2007～2012<span class="cj">年全球汽車感測器市場規模預測</span></div>
<div id="unit" class="abs">(億美元)</div>
<div id="src" class="abs"><span class="mono">Source</span><span class="cjk">：拓墣產業研究所，</span><span class="num">2008/12</span></div>
<div id="copy" class="abs">版權所有<i>▪</i>翻印必究</div>
</body></html>
